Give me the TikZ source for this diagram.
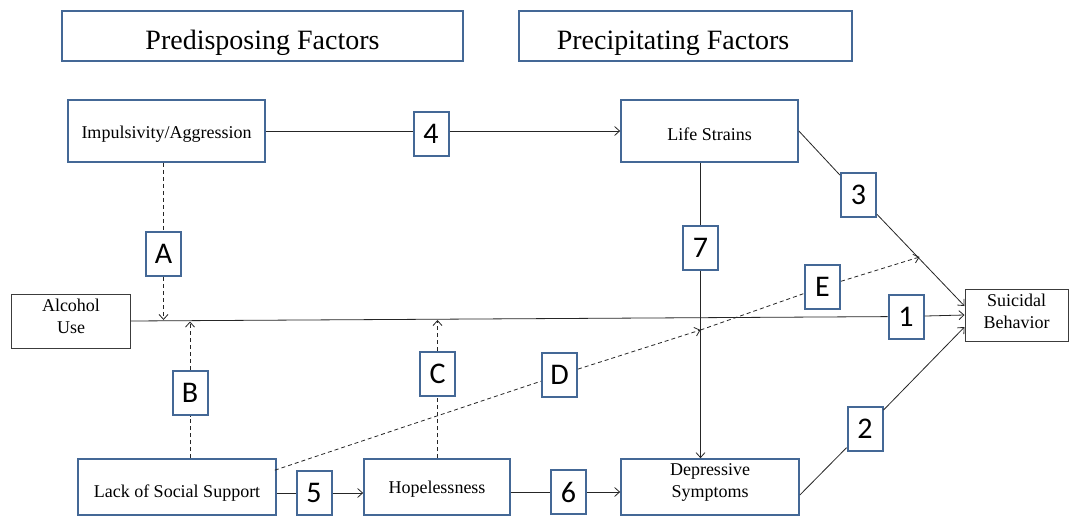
\documentclass[tikz,border=0pt]{standalone}
\usepackage{fontspec}
\setmainfont{Liberation Serif}
\newfontfamily\calfont{Carlito}
\usetikzlibrary{arrows.meta,calc}
\definecolor{boxblue}{RGB}{68,104,150}
\definecolor{boxgray}{RGB}{60,60,60}
\begin{document}
\begin{tikzpicture}[x=1pt,y=-1pt,
 >={Straight Barb[length=5pt,width=9pt]},
 bluebox/.style={draw=boxblue,line width=1.7pt,fill=white,inner sep=0pt,align=center,font=\fontsize{18}{22}\selectfont},
 graybox/.style={draw=boxgray,line width=1pt,fill=white,inner sep=0pt,align=center,font=\fontsize{18}{22}\selectfont},
 titlebox/.style={bluebox,font=\fontsize{28}{32}\selectfont,text height=28pt,text depth=0pt},
 numbox/.style={draw=boxblue,line width=2pt,fill=white,minimum width=35pt,minimum height=44pt,inner sep=0pt,font=\calfont\fontsize{30}{32}\selectfont},
 conn/.style={line width=0.8pt,draw=black!85},
 dconn/.style={conn,dash pattern=on 4pt off 3pt}]
\useasboundingbox (0,0) rectangle (1070,516);
\fill[white] (0,0) rectangle (1070,516);
% main boxes
\node[titlebox,minimum width=401pt,minimum height=50pt] (pre) at (262.5,36) {Predisposing Factors};
\node[titlebox,minimum width=333pt,minimum height=50pt] (prec) at (685.5,36) {\hspace*{-25pt}Precipitating Factors};
\node[bluebox,minimum width=197pt,minimum height=62pt,text height=15pt,text depth=0pt] (imp) at (166.5,131) {Impulsivity/Aggression};
\node[bluebox,minimum width=177pt,minimum height=62pt,text height=18pt,text depth=0pt] (life) at (709.5,131) {Life Strains};
\node[graybox,minimum width=119pt,minimum height=54pt,text height=24pt,text depth=0pt] (alc) at (71,321) {Alcohol\\Use};
\node[graybox,minimum width=103pt,minimum height=52pt,text height=27pt,text depth=0pt] (sui) at (1016.5,315) {Suicidal\\Behavior};
\node[bluebox,minimum width=198pt,minimum height=56pt,text height=20pt,text depth=0pt] (lss) at (177,487) {Lack of Social Support};
\node[bluebox,minimum width=146pt,minimum height=56pt,text height=13pt,text depth=0pt] (hop) at (437,487) {Hopelessness};
\node[bluebox,minimum width=178pt,minimum height=56pt,text height=21pt,text depth=0pt] (dep) at (710,487) {Depressive\\Symptoms};
% number / letter boxes
\node[numbox] (n4) at (431,134) {4};
\node[numbox] (n3) at (858.5,195) {3};
\node[numbox] (n7) at (700.5,247.5) {7};
\node[numbox] (nE) at (822.5,287) {E};
\node[numbox] (n1) at (906,316.5) {1};
\node[numbox] (n2) at (865,429) {2};
\node[numbox] (n6) at (568.5,492) {6};
\node[numbox] (n5) at (314,493) {5};
\node[numbox] (nA) at (163.5,254) {A};
\node[numbox] (nB) at (190,392.5) {B};
\node[numbox] (nC) at (437.5,373.5) {C};
\node[numbox] (nD) at (559.5,375) {D};
% coordinates
\coordinate (s3) at ($(sui.west)+(0,-9)$);
\coordinate (s2) at ($(sui.west)+(0,12)$);
\coordinate (d2) at ($(dep.east)+(0,8)$);
\coordinate (tA) at (163.5,320);
\coordinate (tB) at (190,321.5);
\coordinate (tC) at (437.5,320);
\coordinate (dS) at ($(lss.north east)+(-2,12)$);
\coordinate (p7) at (700.5,330);
\coordinate (pE) at (919.5,257);
% solid connectors
\draw[conn] (imp.east) -- (imp.east -| n4.west);
\draw[conn,->] (imp.east -| n4.east) -- (life.west);
\draw[conn] (life.east) -- (n3);
\draw[conn,->] (n3) -- (s3);
\draw[conn] (alc.east) -- (n1);
\draw[conn,->] (n1) -- (sui.west);
\draw[conn] (d2) -- (n2);
\draw[conn,->] (n2) -- (s2);
\draw[conn] (life.south -| n7) -- (n7);
\draw[conn,->] (n7) -- (dep.north -| n7);
\draw[conn] (n5.west -| lss.east) -- (n5.west);
\draw[conn,->] (n5.east) -- (n5.east -| hop.west);
\draw[conn] (n6.west -| hop.east) -- (n6.west);
\draw[conn,->] (n6.east) -- (n6.east -| dep.west);
% dashed connectors
\draw[dconn] (imp.south -| nA) -- (nA);
\draw[dconn,->] (nA) -- (tA);
\draw[dconn] (lss.north -| nB) -- (nB);
\draw[dconn,->] (nB) -- (tB);
\draw[dconn] (hop.north -| nC) -- (nC);
\draw[dconn,->] (nC) -- (tC);
\draw[dconn] (dS) -- (nD);
\draw[dconn,->] (nD) -- (p7);
\draw[dconn] (p7) -- (nE);
\draw[dconn,->] (nE) -- (pE);
\end{tikzpicture}
\end{document}
